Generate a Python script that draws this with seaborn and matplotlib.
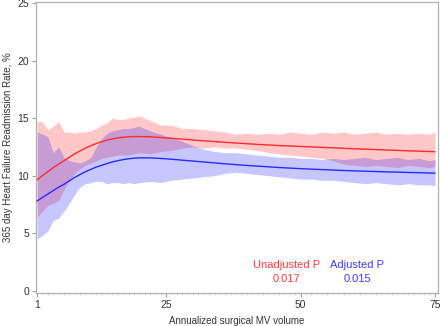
import numpy as np
import pandas as pd
import seaborn as sns
import matplotlib.pyplot as plt
from matplotlib.ticker import MultipleLocator

# Annualized surgical MV volume (x positions)
volume = [1, 2, 3, 4, 5, 6, 7, 8, 9, 10, 11, 12, 13, 14, 15, 16, 17, 18, 19, 20,
          22, 24, 26, 28, 30, 32, 34, 36, 38, 40, 42, 44, 46, 48, 50, 52, 54, 56,
          58, 60, 62, 64, 66, 68, 70, 72, 74, 75]

# Unadjusted (red) curve and band
unadj = [9.65, 10.0, 10.35, 10.7, 11.0, 11.3, 11.6, 11.9, 12.15, 12.4, 12.6, 12.8,
         12.95, 13.1, 13.2, 13.28, 13.34, 13.38, 13.4, 13.4, 13.38, 13.32, 13.25,
         13.18, 13.1, 13.03, 12.97, 12.9, 12.84, 12.78, 12.72, 12.67, 12.62, 12.58,
         12.54, 12.5, 12.46, 12.42, 12.38, 12.34, 12.3, 12.27, 12.23, 12.2, 12.16,
         12.13, 12.1, 12.08]
unadj_hi = [14.7, 14.7, 14.0, 14.3, 14.7, 13.8, 13.8, 13.7, 13.8, 13.8, 13.9, 14.1,
            14.4, 14.6, 15.0, 14.9, 14.9, 15.0, 15.1, 15.2, 14.8, 14.4, 14.4, 14.1,
            14.1, 14.0, 13.9, 13.8, 13.6, 13.7, 13.6, 13.7, 13.6, 13.8, 13.7, 13.6,
            13.8, 13.7, 13.8, 13.6, 13.7, 13.8, 13.6, 13.7, 13.6, 13.7, 13.6, 13.8]
unadj_lo = [6.4, 6.9, 7.4, 7.6, 7.8, 8.8, 9.6, 10.2, 10.6, 10.9, 11.1, 11.3, 11.5,
            11.6, 11.7, 11.8, 11.8, 11.8, 11.9, 12.0, 11.9, 12.1, 12.2, 12.4, 12.5,
            12.4, 12.5, 12.4, 12.4, 12.3, 12.2, 12.0, 11.9, 11.8, 11.7, 11.6, 11.5,
            11.3, 11.0, 10.9, 10.8, 10.9, 10.8, 10.7, 10.9, 10.8, 10.7, 10.8]

# Adjusted (blue) curve and band
adj = [7.8, 8.1, 8.4, 8.7, 9.0, 9.25, 9.55, 9.85, 10.1, 10.35, 10.55, 10.75, 10.9,
       11.05, 11.2, 11.3, 11.4, 11.47, 11.52, 11.55, 11.55, 11.5, 11.43, 11.35,
       11.27, 11.19, 11.11, 11.03, 10.96, 10.89, 10.83, 10.77, 10.71, 10.66, 10.61,
       10.57, 10.53, 10.49, 10.45, 10.42, 10.39, 10.36, 10.33, 10.31, 10.28, 10.26,
       10.23, 10.22]
adj_hi = [13.8, 13.6, 13.4, 12.0, 12.5, 11.6, 11.3, 11.2, 11.1, 11.3, 11.6, 12.5,
          13.2, 13.7, 13.9, 14.0, 14.1, 14.1, 14.2, 14.3, 13.9, 13.6, 13.3, 13.0,
          12.6, 12.3, 12.1, 12.0, 12.0, 11.9, 11.8, 11.7, 11.6, 11.6, 11.5, 11.5,
          11.4, 11.5, 11.4, 11.5, 11.6, 11.4, 11.5, 11.6, 11.4, 11.5, 11.3, 11.4]
adj_lo = [4.5, 4.8, 5.2, 6.1, 6.3, 6.9, 7.6, 8.4, 9.0, 9.3, 9.4, 9.5, 9.5, 9.3,
          9.4, 9.4, 9.3, 9.4, 9.3, 9.4, 9.5, 9.4, 9.6, 9.7, 9.8, 9.9, 10.0, 10.2,
          10.3, 10.2, 10.1, 10.0, 9.9, 9.8, 9.7, 9.7, 9.6, 9.6, 9.5, 9.4, 9.3, 9.4,
          9.3, 9.2, 9.3, 9.2, 9.2, 9.1]

x_ticks = [1, 25, 50, 75]
y_ticks = [0, 5, 10, 15, 20, 25]

df = pd.DataFrame({'volume': volume, 'unadj': unadj, 'adj': adj})

sns.set_theme(style="white")
plt.rcParams['font.family'] = ['Liberation Sans', 'DejaVu Sans']

fig = plt.figure(figsize=(4.4, 3.26), dpi=100)
ax = fig.add_axes([36 / 440, 1 - 293 / 326, 402 / 440, 291 / 326])

# bandas de confiança
ax.fill_between(volume, unadj_lo, unadj_hi, color='#ff0000', alpha=0.22, linewidth=0, zorder=1)
ax.fill_between(volume, adj_lo, adj_hi, color='#0000ff', alpha=0.22, linewidth=0, zorder=2)

sns.lineplot(data=df, x='volume', y='unadj', color='#ff2a2a', linewidth=1.0, ax=ax, zorder=3)
sns.lineplot(data=df, x='volume', y='adj', color='#2a2aff', linewidth=1.0, ax=ax, zorder=3)

ax.set_xlim(0.8, 75.55)
ax.set_ylim(-0.2, 25.1)
ax.set_xticks(x_ticks)
ax.set_yticks(y_ticks)
ax.xaxis.set_minor_locator(MultipleLocator(1))
ax.tick_params(axis='both', which='major', length=3, width=0.8, color='#a0a0a0',
               labelsize=7.5, labelcolor='#333333', pad=2, bottom=True, left=True)
ax.tick_params(axis='x', which='minor', length=1.2, width=0.6, color='#d0d0d0', bottom=True)
for s in ax.spines.values():
    s.set_color('#b0b0b0')
    s.set_linewidth(0.9)

ax.set_xlabel("Annualized surgical MV volume", fontsize=7, color='#333333', labelpad=4)
ax.set_ylabel("365 day Heart Failure Readmission Rate, %", fontsize=7, color='#333333', labelpad=3)

ax.text(47.3, 2.25, "Unadjusted P", color='#ff3c3c', fontsize=8, ha='center', va='center')
ax.text(47.3, 1.05, "0.017", color='#ff3c3c', fontsize=8, ha='center', va='center')
ax.text(60.5, 2.25, "Adjusted P", color='#3c3cff', fontsize=8, ha='center', va='center')
ax.text(60.5, 1.05, "0.015", color='#3c3cff', fontsize=8, ha='center', va='center')

fig.savefig("out.png", dpi=100)
